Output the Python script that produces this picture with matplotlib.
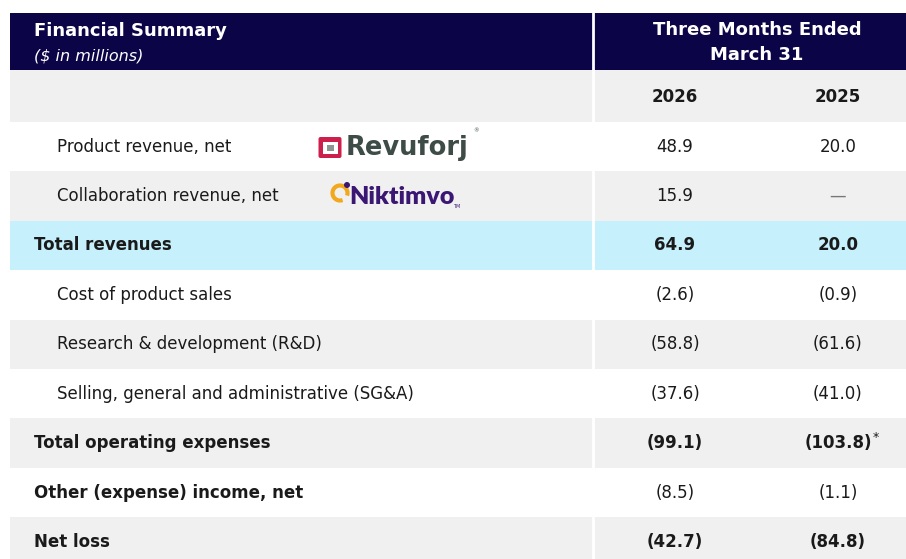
import matplotlib.pyplot as plt
from matplotlib.patches import Rectangle, FancyBboxPatch, Arc, Circle

# table content
labels = [
    "Product revenue, net",
    "Collaboration revenue, net",
    "Total revenues",
    "Cost of product sales",
    "Research & development (R&D)",
    "Selling, general and administrative (SG&A)",
    "Total operating expenses",
    "Other (expense) income, net",
    "Net loss",
]
vals_2026 = ["48.9", "15.9", "64.9", "(2.6)", "(58.8)", "(37.6)", "(99.1)", "(8.5)", "(42.7)"]
vals_2025 = ["20.0", "\u2014", "20.0", "(0.9)", "(61.6)", "(41.0)", "(103.8)", "(1.1)", "(84.8)"]
years = ["2026", "2025"]
bold_labels = [2, 6, 7, 8]
bold_values = [2, 6, 8]
gray_rows = [1, 4, 6, 8]
blue_rows = [2]
footnote_row = 6

NAVY = "#0b0447"
GRAY = "#f0f0f0"
BLUE = "#c6f0fb"
TXT = "#1a1a1a"

fig = plt.figure(figsize=(9.06, 5.59), dpi=100)
ax = fig.add_axes([0, 0, 1, 1])
ax.set_xlim(0, 906)
ax.set_ylim(559, 0)
ax.axis("off")

left, right, split = 10, 906, 593
col_x = [675, 838]
row_top, row_h = 122, 49.4

# header band
ax.add_patch(Rectangle((left, 13), right - left, 57, color=NAVY, lw=0))
ax.text(34, 31, "Financial Summary", color="white", fontsize=13, fontweight="bold", va="center")
ax.text(34, 56, "($ in millions)", color="white", fontsize=11.5, style="italic", va="center")
ax.text(757, 30, "Three Months Ended", color="white", fontsize=13, fontweight="bold",
        va="center", ha="center")
ax.text(757, 55, "March 31", color="white", fontsize=13, fontweight="bold",
        va="center", ha="center")

# year row
ax.add_patch(Rectangle((left, 70), right - left, row_top - 70, color=GRAY, lw=0))
for x, y in zip(col_x, years):
    ax.text(x, 97, y, fontsize=12, fontweight="bold", ha="center", va="center", color=TXT)

# body rows
for i, lab in enumerate(labels):
    top = row_top + i * row_h
    if i in blue_rows:
        fill = BLUE
    elif i in gray_rows:
        fill = GRAY
    else:
        fill = "white"
    ax.add_patch(Rectangle((left, top), right - left, row_h, color=fill, lw=0))
    yc = top + row_h / 2
    bl = i in bold_labels
    wv = "bold" if i in bold_values else "normal"
    ax.text(34 if bl else 57, yc, lab, fontsize=12, fontweight="bold" if bl else "normal",
            va="center", color=TXT)
    ax.text(col_x[0], yc, vals_2026[i], fontsize=12, fontweight=wv, ha="center", va="center", color=TXT)
    c = "#777777" if vals_2025[i] == "\u2014" else TXT
    t = ax.text(col_x[1], yc, vals_2025[i], fontsize=12, fontweight=wv, ha="center", va="center", color=c)
    if i == footnote_row:
        ax.annotate("*", xy=(1, 1), xycoords=t, xytext=(0.5, 2), textcoords="offset points",
                    fontsize=9, va="top", ha="left", color=TXT)

# column divider
ax.plot([split, split], [13, 559], color="white", lw=2)

# Revuforj logo
ax.add_patch(FancyBboxPatch((318.5, 137), 23, 21, boxstyle="round,pad=0,rounding_size=2",
                            color="#cc1f4c", lw=0))
ax.add_patch(Rectangle((323, 141.5), 14.5, 12, color="white", lw=0))
ax.add_patch(Rectangle((326.5, 144.5), 7.5, 6, color="#8e9591", lw=0))
ax.text(346, 148, "Revuforj", fontsize=18.5, fontfamily="DejaVu Sans", fontweight="bold",
        color="#3e4c48", va="center", ha="left")
ax.text(473, 131, "\u00ae", fontsize=4, color="#3e4c48", va="center")

# Niktimvo logo
ax.add_patch(Arc((340, 193), 15, 15, theta1=70, theta2=380, lw=3, color="#f2a81d"))
ax.add_patch(Circle((347, 185), 3, color="#3b1774", lw=0))
ax.text(349, 197, "Niktimvo", fontsize=18, fontfamily="Lato", fontweight="heavy",
        color="#3b1774", va="center", ha="left")
ax.text(453, 207, "TM", fontsize=3.5, color="#3b1774", va="center")

plt.savefig("out.png", dpi=100)
